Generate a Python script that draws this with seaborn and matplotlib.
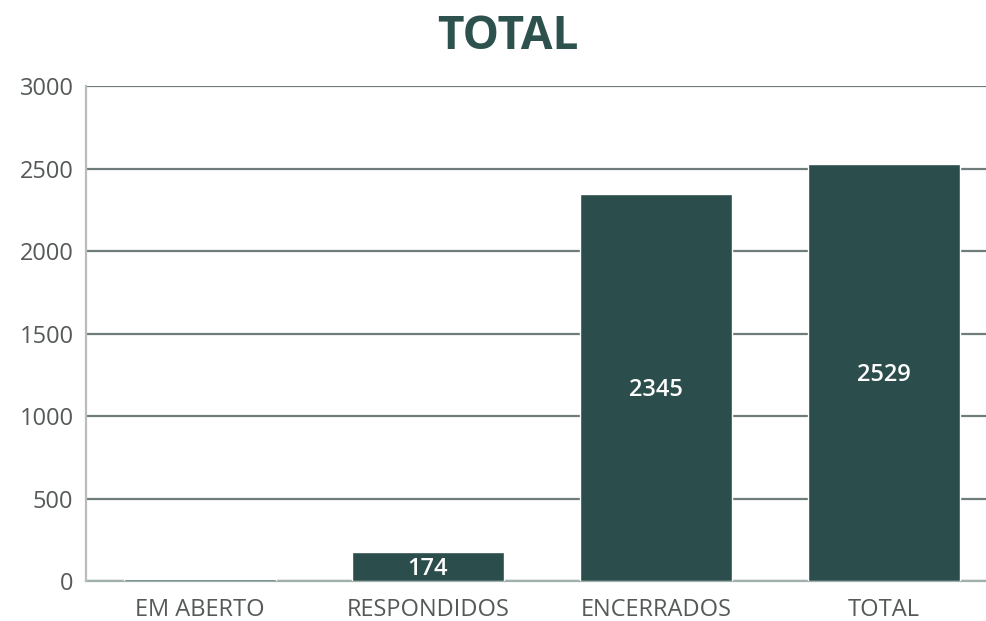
import matplotlib
matplotlib.use("Agg")
import matplotlib.pyplot as plt
import seaborn as sns
import pandas as pd

categories = ["EM ABERTO", "RESPONDIDOS", "ENCERRADOS", "TOTAL"]
values = [10, 174, 2345, 2529]
labelled = [False, True, True, True]
y_ticks = [0, 500, 1000, 1500, 2000, 2500, 3000]

bar_color = "#2b4d4b"
title_color = "#2d524e"
grid_color = "#6e7d7b"
text_color = "#555a59"

sns.set_theme(style="white")
plt.rcParams["font.family"] = ["Open Sans", "DejaVu Sans"]

df = pd.DataFrame({"categoria": categories, "valor": values})

fig = plt.figure(figsize=(9.87, 6.21), dpi=100)
ax = fig.add_axes([0.0871, 0.0644, 0.924, 0.797])

sns.barplot(data=df, x="categoria", y="valor", color=bar_color,
            width=0.667, saturation=1, ax=ax, zorder=3)

ax.set_ylim(0, 3000)
ax.set_yticks(y_ticks)
ax.set_xlim(-0.5, 3.5)
ax.yaxis.grid(True, color=grid_color, linewidth=1.6, zorder=0)
ax.xaxis.grid(False)
ax.set_xlabel("")
ax.set_ylabel("")
ax.tick_params(axis="both", length=0, labelsize=17, colors=text_color)
ax.tick_params(axis="y", pad=9)
ax.tick_params(axis="x", pad=12)

for side in ["top", "right"]:
    ax.spines[side].set_visible(False)
ax.spines["left"].set_color("#b8bcbb")
ax.spines["left"].set_linewidth(1.6)
ax.spines["bottom"].set_color("#9fb0ad")
ax.spines["bottom"].set_linewidth(1.6)
ax.spines["bottom"].set_zorder(2)

for patch, v, show in zip(ax.patches, values, labelled):
    if not show:
        continue
    x = patch.get_x() + patch.get_width() / 2
    ax.text(x, v / 2 - 15, f"{v}", ha="center", va="center", color="white",
            fontsize=17, fontweight="semibold", zorder=5)

fig.text(0.515, 0.942, "TOTAL", ha="center", va="center",
         fontsize=33, fontweight="bold", color=title_color)

fig.savefig("out.png", dpi=100, facecolor="white")
